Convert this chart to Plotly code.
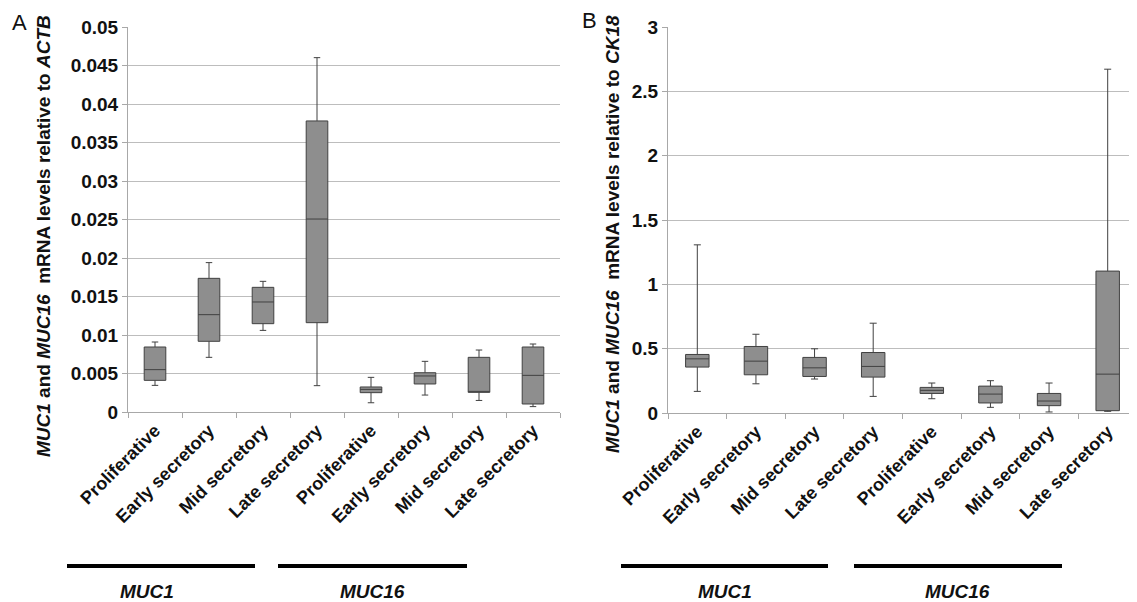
import plotly.graph_objects as go

W, H = 1137, 602
OFF = 8  # page body margin in the browser

phases = ["Proliferative", "Early secretory", "Mid secretory", "Late secretory",
          "Proliferative", "Early secretory", "Mid secretory", "Late secretory"]
genes = ["MUC1", "MUC16"]

# Panel A (relative to ACTB)
a_lower = [0.00346, 0.0071, 0.0106, 0.00342, 0.0012, 0.0022, 0.0015, 0.0007]
a_q1 = [0.00411, 0.00918, 0.01147, 0.0116, 0.00251, 0.00364, 0.00255, 0.00104]
a_median = [0.0055, 0.01264, 0.01429, 0.02506, 0.00294, 0.00468, 0.0026, 0.00476]
a_q3 = [0.00844, 0.01736, 0.01619, 0.0378, 0.00325, 0.0051, 0.0071, 0.00844]
a_upper = [0.00909, 0.0194, 0.01697, 0.04602, 0.0045, 0.00658, 0.00805, 0.00883]

# Panel B (relative to CK18)
b_lower = [0.168, 0.227, 0.264, 0.129, 0.111, 0.044, 0.008, 0.013]
b_q1 = [0.357, 0.297, 0.284, 0.279, 0.152, 0.078, 0.057, 0.018]
b_median = [0.421, 0.403, 0.351, 0.362, 0.176, 0.147, 0.093, 0.302]
b_q3 = [0.455, 0.517, 0.432, 0.47, 0.199, 0.209, 0.152, 1.103]
b_upper = [1.307, 0.612, 0.499, 0.698, 0.233, 0.251, 0.233, 2.672]

pos = list(range(len(phases)))
FONT = "Arial, Liberation Sans, sans-serif"
BOXFILL = "#8e8e8e"
BOXLINE = "#404040"
AXCOL = "#a8a8a8"
GRIDCOL = "#bdbdbd"

FW, FH = W - OFF, H - OFF

def px(x):
    return (x - OFF) / FW

def py(y):
    return (H - y) / FH

fig = go.Figure()
fig.add_trace(go.Box(x=pos, q1=a_q1, median=a_median, q3=a_q3,
                     lowerfence=a_lower, upperfence=a_upper,
                     width=0.4, whiskerwidth=0.3,
                     fillcolor=BOXFILL, line=dict(color=BOXLINE, width=1),
                     xaxis="x", yaxis="y", showlegend=False, boxpoints=False))
fig.add_trace(go.Box(x=pos, q1=b_q1, median=b_median, q3=b_q3,
                     lowerfence=b_lower, upperfence=b_upper,
                     width=0.4, whiskerwidth=0.3,
                     fillcolor=BOXFILL, line=dict(color=BOXLINE, width=1),
                     xaxis="x2", yaxis="y2", showlegend=False, boxpoints=False))

tickfont = dict(family=FONT, size=19, color="#111111", weight="bold")
xtickfont = dict(family=FONT, size=18, color="#111111", weight="bold")

def xax(domain):
    return dict(domain=domain, range=[-0.5, 7.5], tickmode="array",
                tickvals=pos, ticktext=phases, tickangle=-45, ticks="",
                showgrid=False, zeroline=False, showline=True, linecolor=AXCOL,
                linewidth=1, tickfont=xtickfont, automargin=False,
                minor=dict(tickmode="array", tickvals=[i - 0.5 for i in range(9)],
                           ticks="outside", ticklen=5, tickcolor=AXCOL, showgrid=False))

def yax(domain, rng, dtick, anchor):
    return dict(domain=domain, range=rng, dtick=dtick, tick0=0, anchor=anchor,
                showgrid=True, gridcolor=GRIDCOL, gridwidth=1, zeroline=False,
                showline=True, linecolor=AXCOL, linewidth=1, ticks="outside",
                ticklen=5, tickcolor=AXCOL, tickfont=tickfont, automargin=False)

fig.update_layout(
    template="none",
    width=FW, height=FH, margin=dict(l=0, r=0, t=0, b=0, pad=0, autoexpand=False),
    paper_bgcolor="white", plot_bgcolor="white",
    xaxis=dict(**xax([px(128), px(560)]), anchor="y"),
    yaxis=yax([py(412), py(27)], [0, 0.05], 0.005, "x"),
    xaxis2=dict(**xax([px(668), 1.0]), anchor="y2"),
    yaxis2=yax([py(413), py(27)], [0, 3], 0.5, "x2"),
)

ann = []
title_font = dict(family=FONT, size=19, color="#111111")
ann.append(dict(text="<b><i>MUC1</i> and <i>MUC16</i>  mRNA levels relative to <i>ACTB</i></b>",
                x=px(43), y=py(236), xref="paper", yref="paper", textangle=-90,
                showarrow=False, xanchor="center", yanchor="middle", font=title_font))
ann.append(dict(text="<b><i>MUC1</i> and <i>MUC16</i>  mRNA levels relative to <i>CK18</i></b>",
                x=px(612), y=py(234), xref="paper", yref="paper", textangle=-90,
                showarrow=False, xanchor="center", yanchor="middle", font=title_font))
ann.append(dict(text="A", x=px(19), y=py(22), xref="paper", yref="paper", showarrow=False,
                xanchor="center", yanchor="middle", borderpad=0,
                font=dict(family=FONT, size=22, color="#111111")))
ann.append(dict(text="B", x=px(589), y=py(21), xref="paper", yref="paper", showarrow=False,
                xanchor="center", yanchor="middle", borderpad=0,
                font=dict(family=FONT, size=22, color="#111111")))

group_lines = [(67, 255, 147, genes[0]), (278, 467, 372, genes[1]),
               (621, 828, 725, genes[0]), (854, 1062, 957, genes[1])]
shapes = []
for x0, x1, xc, g in group_lines:
    shapes.append(dict(type="line", xref="paper", yref="paper", x0=px(x0), x1=px(x1),
                       y0=py(566), y1=py(566), line=dict(color="black", width=4)))
    ann.append(dict(text=f"<b><i>{g}</i></b>", x=px(xc), y=py(591), xref="paper", yref="paper",
                    showarrow=False, xanchor="center", yanchor="middle",
                    font=dict(family=FONT, size=19, color="#111111")))

fig.update_layout(annotations=ann, shapes=shapes)
fig.write_html("out.html")
